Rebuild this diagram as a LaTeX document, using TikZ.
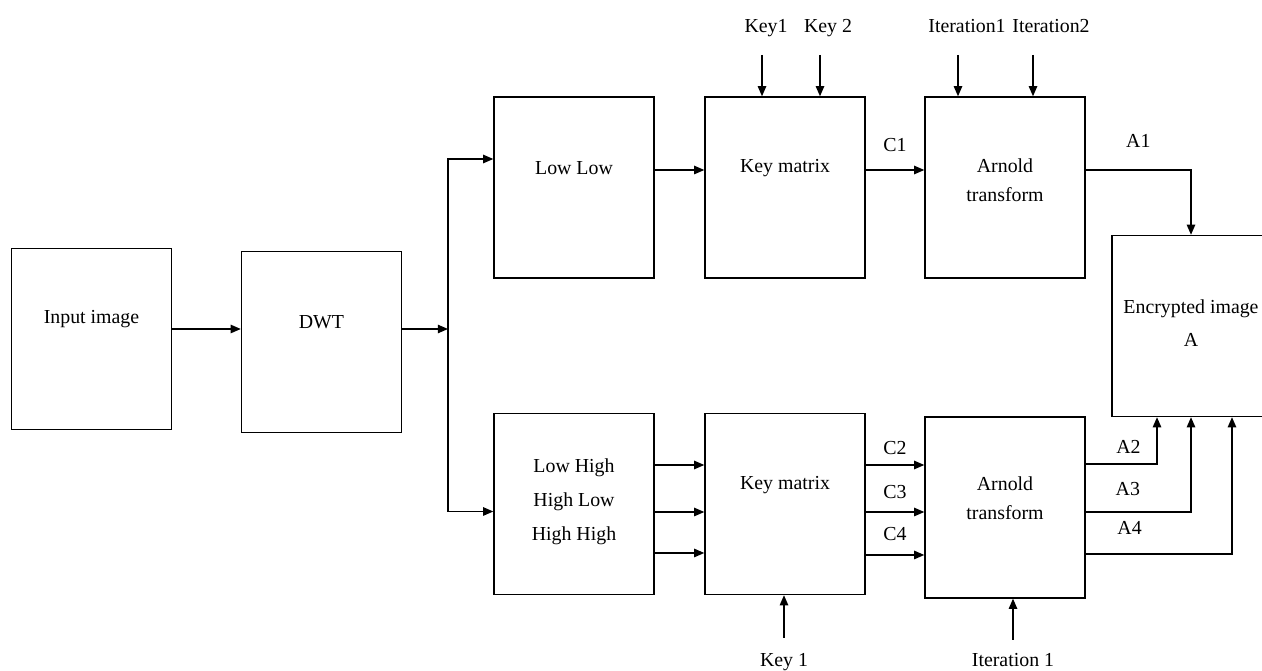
\documentclass[tikz,border=0pt]{standalone}
\usepackage{fontspec}
\setmainfont{Liberation Serif}
\usetikzlibrary{arrows.meta,positioning}

\tikzset{
  blk/.style={draw,line width=0.8pt,minimum width=3.2cm,minimum height=3.62cm,inner sep=0pt},
  txt/.style={align=center,font=\fontsize{11.3pt}{16.4pt}\selectfont},
  arr/.style={line width=0.8pt,-{Triangle[length=5.8pt,width=4.8pt]}},
  lab/.style={above=#1,font=\fontsize{11.3pt}{13pt}\selectfont},
  inlab/.style={inner sep=0pt,text height=7.5pt,text depth=2.4pt,font=\fontsize{11.3pt}{13pt}\selectfont},
}

\begin{document}
\begin{tikzpicture}[x=0.02cm,y=-0.02cm]
\useasboundingbox (0,0) rectangle (1262,671);

% blocks
\node[blk] (inp) at (91.5,339) {};
\node[blk] (dwt) at (321.5,342) {};
\node[blk] (ll)  at (574,187.5) {};
\node[blk] (km1) at (785,187.5) {};
\node[blk] (ar1) at (1005,187.5) {};
\node[blk] (lh)  at (574,504) {};
\node[blk] (km2) at (785,504) {};
\node[blk] (ar2) at (1005,507.5) {};
\node[blk,minimum width=3.16cm] (enc) at (1191,326) {};

% block texts
\node[txt] (inpT) at (91.5,319) {Input image};
\node[txt] (dwtT) at (321.5,322) {DWT};
\node[txt] (llT)  at (574,168) {Low Low};
\node[txt] (km1T) at (785,168) {Key matrix};
\node[txt] (ar1T) at (1005,180.5) {Arnold\\transform};
\node[txt] (lhT)  at (574,502) {Low High\\[3pt]High Low\\[3pt]High High};
\node[txt] (km2T) at (785,485) {Key matrix};
\node[txt] (ar2T) at (1005,498.5) {Arnold\\transform};
\node[txt] (encT) at (1191,323) {Encrypted image\\[2.3pt]A};

% outside inputs
\node[inlab] (key1) at (766,28) {Key1};
\node[inlab] (key2) at (828,28) {Key 2};
\node[inlab] (iter1) at (967,28) {Iteration1};
\node[inlab] (iter2) at (1051,28) {Iteration2};
\node[inlab] (key1b) at (784,662) {Key 1};
\node[inlab] (iter1b) at (1013,662) {Iteration 1};
\coordinate (k1) at (762,55);
\coordinate (k2) at (820,55);
\coordinate (i1) at (958,55);
\coordinate (i2) at (1033,55);
\coordinate (k1b) at (784,638);
\coordinate (i1b) at (1013,640);
\coordinate (split) at (448,329);

% connectors
\draw[arr] (inp.east |- split) -- (dwt.west |- split);
\draw[arr] (dwt.east |- split) -- (split);
\draw[arr] (split) |- ([yshift=0.57cm]ll.west);
\draw[arr] (split) |- ([yshift=-0.15cm]lh.west);

\draw[arr] ([yshift=0.35cm]ll.east) -- ([yshift=0.35cm]km1.west);
\draw[arr] ([yshift=0.35cm]km1.east) -- node[lab=6.5pt]{C1} ([yshift=0.35cm]ar1.west);
\draw[arr] ([yshift=0.35cm]ar1.east) -| node[lab=8.8pt,pos=0.25]{A1} (enc.north);

\draw[arr] (k1) -- (k1 |- km1.north);
\draw[arr] (k2) -- (k2 |- km1.north);
\draw[arr] (i1) -- (i1 |- ar1.north);
\draw[arr] (i2) -- (i2 |- ar1.north);

\draw[arr] ([yshift=0.78cm]lh.east) coordinate (p1) -- (p1 -| km2.west);
\draw[arr] ([yshift=-0.16cm]lh.east) coordinate (p2) -- (p2 -| km2.west);
\draw[arr] ([yshift=-0.98cm]lh.east) coordinate (p3) -- (p3 -| km2.west);

\draw[arr] ([yshift=0.78cm]km2.east) coordinate (c2) -- node[lab=2pt]{C2} (c2 -| ar2.west);
\draw[arr] ([yshift=-0.16cm]km2.east) coordinate (c3) -- node[lab=3.7pt]{C3} (c3 -| ar2.west);
\draw[arr] ([yshift=-1.02cm]km2.east) coordinate (c4) -- node[lab=4.2pt]{C4} (c4 -| ar2.west);

\draw[arr] ([yshift=0.87cm]ar2.east) -| node[lab=2pt,pos=0.3]{A2} ([xshift=-0.68cm]enc.south);
\draw[arr] ([yshift=-0.09cm]ar2.east) -| node[lab=5.4pt,pos=0.2]{A3} (enc.south);
\draw[arr] ([yshift=-0.93cm]ar2.east) -| node[lab=7.6pt,pos=0.15]{A4} ([xshift=0.82cm]enc.south);

\draw[arr] (k1b) -- (k1b |- km2.south);
\draw[arr] (i1b) -- (i1b |- ar2.south);
\end{tikzpicture}
\end{document}
